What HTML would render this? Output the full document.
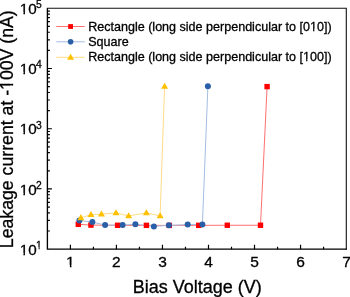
<!DOCTYPE html>
<html><head><meta charset="utf-8"><style>
html,body{margin:0;padding:0;background:#fff;}
body{width:350px;height:297px;overflow:hidden;position:relative;font-family:"Liberation Sans",sans-serif;color:#000;}
svg{position:absolute;left:0;top:0;will-change:transform;}
</style></head><body>
<svg width="350" height="297" viewBox="0 0 350 297">
<path d="M70.40 249.15 V244.65 M116.43 249.15 V244.65 M162.46 249.15 V244.65 M208.49 249.15 V244.65 M254.52 249.15 V244.65 M300.55 249.15 V244.65 M93.42 249.15 V246.65 M139.44 249.15 V246.65 M185.48 249.15 V246.65 M231.51 249.15 V246.65 M277.53 249.15 V246.65 M323.57 249.15 V246.65 M47.4 231.02 H49.9 M47.4 220.42 H49.9 M47.4 212.90 H49.9 M47.4 207.07 H49.9 M47.4 202.30 H49.9 M47.4 198.27 H49.9 M47.4 194.77 H49.9 M47.4 191.70 H49.9 M47.4 188.94 H51.9 M47.4 170.81 H49.9 M47.4 160.21 H49.9 M47.4 152.69 H49.9 M47.4 146.86 H49.9 M47.4 142.09 H49.9 M47.4 138.06 H49.9 M47.4 134.56 H49.9 M47.4 131.49 H49.9 M47.4 128.73 H51.9 M47.4 110.60 H49.9 M47.4 100.00 H49.9 M47.4 92.48 H49.9 M47.4 86.65 H49.9 M47.4 81.88 H49.9 M47.4 77.85 H49.9 M47.4 74.35 H49.9 M47.4 71.28 H49.9 M47.4 68.52 H51.9 M47.4 50.39 H49.9 M47.4 39.79 H49.9 M47.4 32.27 H49.9 M47.4 26.44 H49.9 M47.4 21.67 H49.9 M47.4 17.64 H49.9 M47.4 14.14 H49.9 M47.4 11.07 H49.9" stroke="#000" stroke-width="1.2" fill="none"/>
<path d="M47.4 8.3 H346.3 V249.15" stroke="#111" stroke-width="1.1" fill="none" stroke-linecap="square"/>
<path d="M47.4 8.200000000000001 V249.15 H346.8" stroke="#000" stroke-width="1.35" fill="none" stroke-linecap="butt"/>
<polyline points="78.3,224.3 90.95,225.1 117.6,225.3 146.4,225.35 169.3,225.4 198.7,225.35 227.3,225.25 260.5,225.25 267.1,86.6" stroke="#ff7070" stroke-width="1" fill="none"/>
<polyline points="79.4,220.5 92.35,222.05 105.1,225.1 122.6,225.1 135.4,224.2 153.9,226.4 168.85,225.35 187.7,224.6 202.4,224.6 207.9,86.3" stroke="#a3bde0" stroke-width="1" fill="none"/>
<polyline points="80.85,217.75 90.95,214.7 101.45,214.2 116.0,212.9 128.65,215.9 146.35,212.9 160.1,215.9 164.6,86.35" stroke="#ffdc85" stroke-width="1" fill="none"/>
<rect x="75.60" y="221.60" width="5.4" height="5.4" fill="#ff0000"/>
<rect x="88.25" y="222.40" width="5.4" height="5.4" fill="#ff0000"/>
<rect x="114.90" y="222.60" width="5.4" height="5.4" fill="#ff0000"/>
<rect x="143.70" y="222.65" width="5.4" height="5.4" fill="#ff0000"/>
<rect x="166.60" y="222.70" width="5.4" height="5.4" fill="#ff0000"/>
<rect x="196.00" y="222.65" width="5.4" height="5.4" fill="#ff0000"/>
<rect x="224.60" y="222.55" width="5.4" height="5.4" fill="#ff0000"/>
<rect x="257.80" y="222.55" width="5.4" height="5.4" fill="#ff0000"/>
<rect x="264.40" y="83.90" width="5.4" height="5.4" fill="#ff0000"/>
<circle cx="79.4" cy="220.5" r="3.0" fill="#2a5ea6"/>
<circle cx="92.35" cy="222.05" r="3.0" fill="#2a5ea6"/>
<circle cx="105.1" cy="225.1" r="3.0" fill="#2a5ea6"/>
<circle cx="122.6" cy="225.1" r="3.0" fill="#2a5ea6"/>
<circle cx="135.4" cy="224.2" r="3.0" fill="#2a5ea6"/>
<circle cx="153.9" cy="226.4" r="3.0" fill="#2a5ea6"/>
<circle cx="168.85" cy="225.35" r="3.0" fill="#2a5ea6"/>
<circle cx="187.7" cy="224.6" r="3.0" fill="#2a5ea6"/>
<circle cx="202.4" cy="224.6" r="3.0" fill="#2a5ea6"/>
<circle cx="207.9" cy="86.3" r="3.0" fill="#2a5ea6"/>
<path d="M80.85 214.11 L84.35 220.17 L77.35 220.17Z" fill="#ffc000"/>
<path d="M90.95 211.06 L94.45 217.12 L87.45 217.12Z" fill="#ffc000"/>
<path d="M101.45 210.56 L104.95 216.62 L97.95 216.62Z" fill="#ffc000"/>
<path d="M116.00 209.26 L119.50 215.32 L112.50 215.32Z" fill="#ffc000"/>
<path d="M128.65 212.26 L132.15 218.32 L125.15 218.32Z" fill="#ffc000"/>
<path d="M146.35 209.26 L149.85 215.32 L142.85 215.32Z" fill="#ffc000"/>
<path d="M160.10 212.26 L163.60 218.32 L156.60 218.32Z" fill="#ffc000"/>
<path d="M164.60 82.71 L168.10 88.77 L161.10 88.77Z" fill="#ffc000"/>
<line x1="56.3" y1="26.5" x2="84.7" y2="26.5" stroke="#ff7070" stroke-width="1"/>
<line x1="56.3" y1="41.8" x2="84.7" y2="41.8" stroke="#a3bde0" stroke-width="1"/>
<line x1="56.3" y1="57.3" x2="84.7" y2="57.3" stroke="#ffdc85" stroke-width="1"/>
<rect x="68.20" y="24.10" width="4.8" height="4.8" fill="#ff0000"/>
<circle cx="70.6" cy="41.8" r="2.8" fill="#2a5ea6"/>
<path d="M70.60 53.66 L74.10 59.72 L67.10 59.72Z" fill="#ffc000"/>
<g font-family="Liberation Sans, sans-serif" fill="#000" stroke="#000" stroke-width="0.3">
<text x="88.2" y="30.9" font-size="12.55">Rectangle (long side perpendicular to [010])</text>
<g fill="#fff" stroke="none"><rect x="310.24" y="29.35" width="2.82" height="2.65"/><rect x="314.36" y="29.35" width="2.87" height="2.65"/></g>
<text x="88.2" y="45.9" font-size="12.55">Square</text>
<text x="88.2" y="60.9" font-size="12.55">Rectangle (long side perpendicular to [100])</text>
<g fill="#fff" stroke="none"><rect x="303.26" y="59.35" width="2.82" height="2.65"/><rect x="307.38" y="59.35" width="2.87" height="2.65"/></g>
<text x="70.40" y="266.8" font-size="15.5" text-anchor="middle">1</text>
<g fill="#fff" stroke="none"><rect x="66.39" y="264.96" width="3.48" height="3.04"/><rect x="71.48" y="264.96" width="3.54" height="3.04"/></g>
<text x="116.43" y="266.8" font-size="15.5" text-anchor="middle">2</text>
<text x="162.46" y="266.8" font-size="15.5" text-anchor="middle">3</text>
<text x="208.49" y="266.8" font-size="15.5" text-anchor="middle">4</text>
<text x="254.52" y="266.8" font-size="15.5" text-anchor="middle">5</text>
<text x="300.55" y="266.8" font-size="15.5" text-anchor="middle">6</text>
<text x="346.58" y="266.8" font-size="15.5" text-anchor="middle">7</text>
<text x="36.10" y="248.95" font-size="10.3">1</text>
<g fill="#fff" stroke="none"><rect x="36.30" y="247.40" width="2.31" height="2.60"/><rect x="39.68" y="247.40" width="2.35" height="2.60"/></g>
<text x="36.10" y="188.74" font-size="10.3">2</text>
<text x="36.10" y="128.53" font-size="10.3">3</text>
<text x="36.10" y="68.32" font-size="10.3">4</text>
<text x="36.10" y="8.11" font-size="10.3">5</text>
<text x="19.7" y="254.85" font-size="15.2">10</text>
<g fill="#fff" stroke="none"><rect x="20.00" y="253.00" width="3.41" height="3.00"/><rect x="24.98" y="253.00" width="3.47" height="3.00"/></g>
<text x="19.7" y="194.64" font-size="15.2">10</text>
<g fill="#fff" stroke="none"><rect x="20.00" y="193.00" width="3.41" height="3.00"/><rect x="24.98" y="193.00" width="3.47" height="3.00"/></g>
<text x="19.7" y="134.43" font-size="15.2">10</text>
<g fill="#fff" stroke="none"><rect x="20.00" y="132.00" width="3.41" height="3.00"/><rect x="24.98" y="132.00" width="3.47" height="3.00"/></g>
<text x="19.7" y="74.22" font-size="15.2">10</text>
<g fill="#fff" stroke="none"><rect x="20.00" y="72.00" width="3.41" height="3.00"/><rect x="24.98" y="72.00" width="3.47" height="3.00"/></g>
<text x="19.7" y="14.01" font-size="15.2">10</text>
<g fill="#fff" stroke="none"><rect x="20.00" y="12.00" width="3.41" height="3.00"/><rect x="24.98" y="12.00" width="3.47" height="3.00"/></g>
<text x="132.8" y="293.4" font-size="18">Bias Voltage (V)</text>
<text transform="translate(13.4 248.2) rotate(-90)" font-size="17.7">Leakage current at -100V (nA)</text>
<g fill="#fff" stroke="none"><g transform="translate(13.4 248.2) rotate(-90)"><rect x="158.64" y="-3.11" width="3.98" height="4.23"/><rect x="164.45" y="-3.11" width="4.04" height="4.23"/></g></g>
</g>
</svg>
</body></html>
